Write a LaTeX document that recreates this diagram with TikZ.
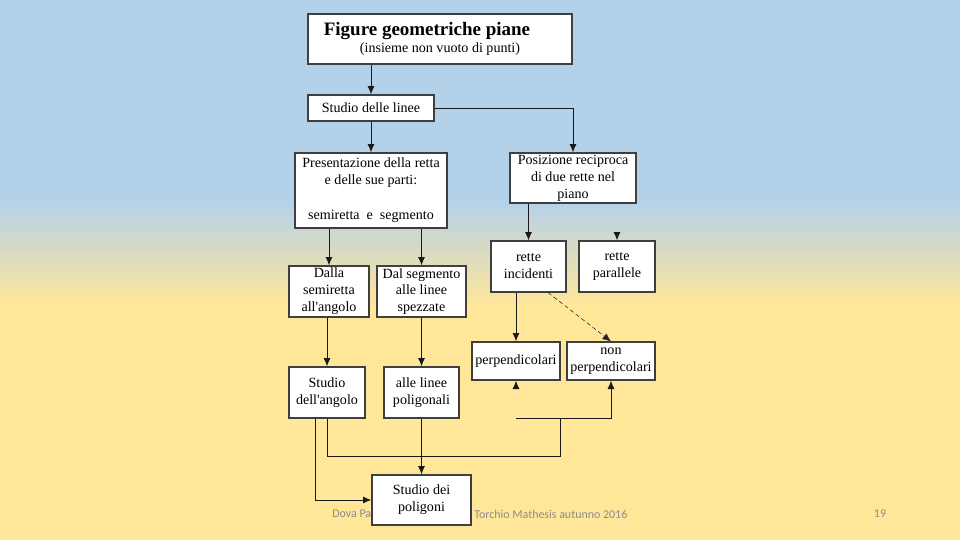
\documentclass[tikz,border=0pt]{standalone}
\usepackage{fontspec}
\setmainfont{Liberation Serif}
\newfontfamily\footfont{Carlito}
\usepackage{tikz}
\usetikzlibrary{arrows.meta}
\usetikzlibrary{calc}
\definecolor{sfondoblu}{HTML}{B4D1EA}
\definecolor{sfondogiallo}{HTML}{FFE699}
\definecolor{bordo}{HTML}{3F3F3F}

\begin{document}
\begin{tikzpicture}[x=0.025cm, y=-0.025cm,
	box/.style={draw=bordo, line width=0.8pt, fill=white, align=center, inner sep=1pt, font=\fontsize{10}{12}\selectfont},
	sz/.style 2 args={minimum width=#1*0.025cm, minimum height=#2*0.025cm},
	arr/.style={draw=black!90, line width=0.7pt, -{Latex[length=6pt, width=5pt]}},
	lin/.style={draw=black!90, line width=0.7pt},
	tratt/.style={draw=black!85, line width=0.4pt, densely dashed, -{Latex[length=6pt, width=5pt]}},
	foot/.style={text=black!45, inner sep=0pt, font=\footfont\fontsize{8.5}{10}\selectfont}]

	% background
	\useasboundingbox (0,0) rectangle (960,540);
	\fill[sfondoblu] (0,0) rectangle (960,200);
	\shade[top color=sfondoblu, bottom color=sfondogiallo] (0,200) rectangle (960,305);
	\fill[sfondogiallo] (0,305) rectangle (960,540);

	% footer
	\node[foot, anchor=west] (autore) at (332,514) {Dova Pa};
	\node[foot, anchor=west] (corso) at (474,514) {Torchio Mathesis autunno 2016};
	\node[foot] (pagina) at (880,514) {19};

	% boxes
	\node[box, sz={264}{50}] (titolo) at (440,39) {{\bfseries\fontsize{13.5}{16}\selectfont Figure geometriche piane}\hspace*{0.65cm}\\(insieme non vuoto di punti)};
	\node[box, sz={126}{26}] (linee) at (371,108) {Studio delle linee};
	\node[box, sz={152}{75}] (retta) at (371,190.5) {Presentazione della retta\\e delle sue parti:\\[13pt]semiretta\ \ e\ \ segmento};
	\node[box, sz={126}{50}] (posizione) at (573,178) {Posizione reciproca\\di due rette nel\\piano};
	\node[box, sz={75}{51}] (incidenti) at (528.5,266.5) {rette\\incidenti};
	\node[box, sz={76}{51}] (parallele) at (617,266.5) {rette\\parallele};
	\node[box, sz={80}{51}] (semiretta) at (329,291.5) {Dalla\\semiretta\\all\textquotesingle angolo};
	\node[box, sz={89}{51}] (segmento) at (421.5,291.5) {Dal segmento\\alle linee\\spezzate};
	\node[box, sz={88}{38}] (perp) at (516,361) {perpendicolari};
	\node[box, sz={88}{38}] (nonperp) at (611,361) {non\\perpendicolari};
	\node[box, sz={76}{51}] (angolo) at (327,392.5) {Studio\\dell\textquotesingle angolo};
	\node[box, sz={75}{51}] (poligonali) at (421.5,392.5) {alle linee\\poligonali};

	% junctions
	\coordinate (pin) at (617,233);
	\coordinate (pperp) at (516,388);
	\coordinate (j1) at (560,456);
	\coordinate (j2) at (560,418);
	\coordinate (j3) at (516,418);

	% arrows
	\draw[arr] (titolo.south -| linee.north) -- (linee.north);
	\draw[arr] (linee.east) -| (posizione.north);
	\draw[arr] (linee.south) -- (retta.north);
	\draw[arr] (semiretta.north |- retta.south) -- (semiretta.north);
	\draw[arr] (segmento.north |- retta.south) -- (segmento.north);
	\draw[arr] (incidenti.north |- posizione.south) -- (incidenti.north);
	\draw[arr] (pin) -- (parallele.north);
	\draw[arr] (perp.north |- incidenti.south) -- (perp.north);
	\draw[tratt] ($(incidenti.south)+(19.5,0)$) -- (nonperp.north);
	\draw[arr] (angolo.north |- semiretta.south) -- (angolo.north);
	\draw[arr] (segmento.south) -- (poligonali.north);
	\draw[lin] (angolo.south) |- (j1) -- (j2);
	\draw[arr] (j3) -| (nonperp.south);
	\draw[arr] (pperp) -- (perp.south);

	% last box, over the footer
	\node[box, sz={99}{50}] (poligoni) at (421.5,500) {Studio dei\\poligoni};
	\draw[arr] (poligonali.south) -- (poligoni.north);
	\draw[arr] ($(angolo.south)+(-12,0)$) |- (poligoni.west);
\end{tikzpicture}
\end{document}
